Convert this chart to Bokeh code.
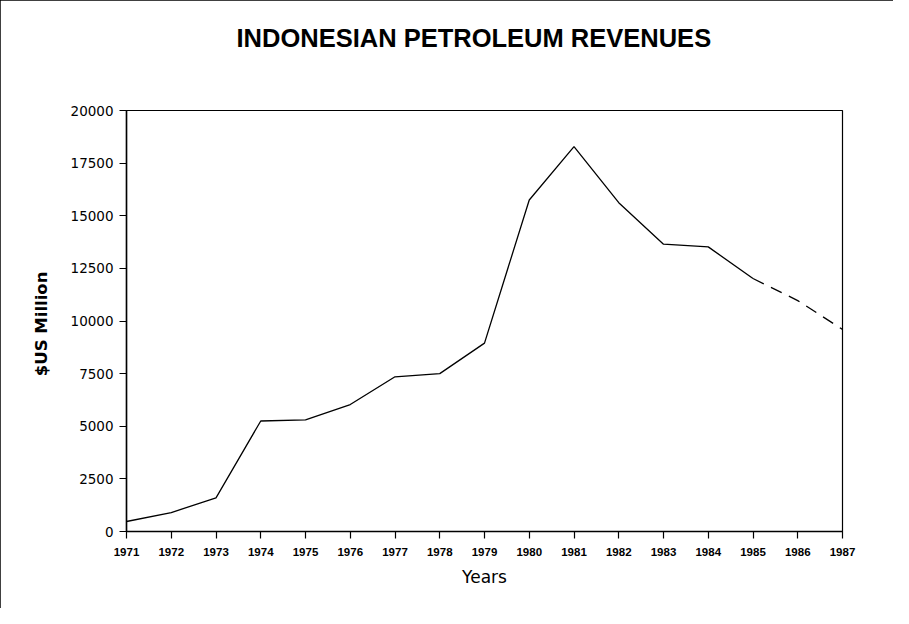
from bokeh.plotting import figure
from bokeh.models import Range1d, FixedTicker, ColumnDataSource, Title
from bokeh.embed import file_html
from bokeh.resources import INLINE

# ---- data ----
years = [1971, 1972, 1973, 1974, 1975, 1976, 1977, 1978, 1979,
         1980, 1981, 1982, 1983, 1984, 1985, 1986, 1987]
revenues = [475, 900, 1600, 5250, 5300, 6030, 7350, 7500, 8950,
            15750, 18280, 15620, 13650, 13520, 12020, 10970, 9600]
last_actual_year = 1985
y_ticks = [0, 2500, 5000, 7500, 10000, 12500, 15000, 17500, 20000]
title_text = "INDONESIAN PETROLEUM REVENUES"
x_label = "Years"
y_label = "$US  Million"

split = years.index(last_actual_year)
solid = ColumnDataSource(dict(x=years[:split + 1], y=revenues[:split + 1]))
dashed = ColumnDataSource(dict(x=years[split:], y=revenues[split:]))

p = figure(width=893, height=608, output_backend="svg", toolbar_location=None,
           x_range=Range1d(years[0], years[-1]), y_range=Range1d(0, 20000),
           min_border_left=126, min_border_right=51,
           min_border_top=110, min_border_bottom=77)
p.styles = {"outline": "1px solid black", "outline-offset": "-1px"}

p.line("x", "y", source=solid, line_color="black", line_width=1.3)
p.line("x", "y", source=dashed, line_color="black", line_width=1.3,
       line_dash="12 8")

p.xgrid.visible = False
p.ygrid.visible = False
p.outline_line_color = "black"
p.outline_line_width = 1.2
p.background_fill_color = "white"
p.border_fill_color = "white"

# empty spacer panel between frame and title
p.add_layout(Title(text=" ", text_font_size="10px", standoff=44), "above")

# title
p.title.text = title_text
p.title.align = "left"
p.title.offset = 110
p.title.text_font = "Liberation Sans"
p.title.text_font_style = "bold"
p.title.text_font_size = "25.5px"
p.title.text_color = "black"
p.title.standoff = 4

# axes
p.xaxis.ticker = FixedTicker(ticks=years)
p.yaxis.ticker = FixedTicker(ticks=y_ticks)
for ax in (p.xaxis[0], p.yaxis[0]):
    ax.axis_line_color = "black"
    ax.axis_line_width = 1.5
    ax.major_tick_line_color = "black"
    ax.major_tick_line_width = 1.2
    ax.major_tick_in = 0
    ax.major_tick_out = 7
    ax.minor_tick_line_color = None

p.xaxis.major_label_text_font = "Liberation Sans"
p.xaxis.major_label_text_font_style = "bold"
p.xaxis.major_label_text_font_size = "11.5px"
p.xaxis.major_label_text_color = "black"
p.xaxis.major_label_standoff = 9
p.xaxis.axis_label = x_label
p.xaxis.axis_label_text_font = "DejaVu Sans"
p.xaxis.axis_label_text_font_style = "normal"
p.xaxis.axis_label_text_font_size = "17px"
p.xaxis.axis_label_text_color = "black"
p.xaxis.axis_label_standoff = 8

p.yaxis.major_label_text_font = "DejaVu Sans"
p.yaxis.major_label_text_font_size = "13.5px"
p.yaxis.major_label_text_color = "black"
p.yaxis.major_label_standoff = 6
p.yaxis.axis_label = y_label
p.yaxis.axis_label_text_font = "DejaVu Sans"
p.yaxis.axis_label_text_font_style = "bold"
p.yaxis.axis_label_text_font_size = "16.5px"
p.yaxis.axis_label_text_color = "black"
p.yaxis.axis_label_standoff = 17

open("out.html", "w").write(file_html(p, INLINE))
